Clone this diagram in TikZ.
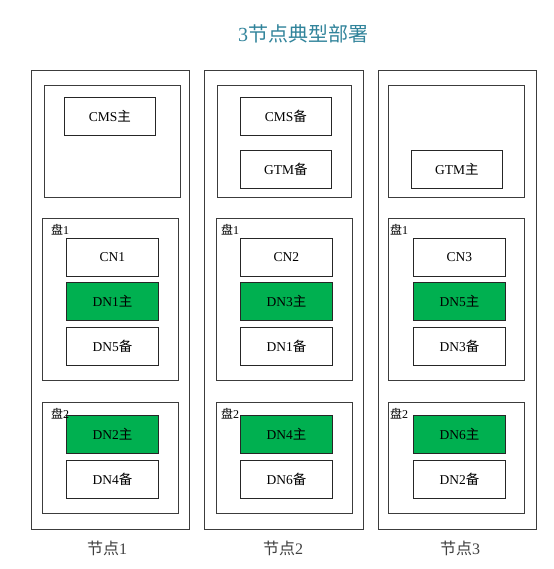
\documentclass[tikz,border=0pt]{standalone}
\usepackage{fontspec}
\setmainfont{Liberation Serif}
\newfontfamily\cjk{Noto Sans CJK SC}
\definecolor{titleblue}{RGB}{49,132,155}
\definecolor{dngreen}{RGB}{0,176,80}
\definecolor{framegray}{RGB}{60,60,60}
\begin{document}
\begin{tikzpicture}[x=1pt,y=-1pt,
  container/.style={draw=framegray,line width=0.9pt,fill=white,anchor=north west,inner sep=0pt},
  item/.style={draw=black!85,line width=0.8pt,fill=white,anchor=north west,inner sep=0pt,
    minimum width=92pt,minimum height=38pt,font=\fontsize{13.5}{15}\selectfont},
  primary/.style={item,fill=dngreen},
  disklabel/.style={anchor=north west,inner sep=0pt,font=\fontsize{12}{14}\selectfont},
  nodelabel/.style={font=\fontsize{16}{19}\selectfont,text=black!75}]
\useasboundingbox (0,0) rectangle (553,569);
\fill[white] (0,0) rectangle (553,569);
\node[font=\fontsize{20}{24}\selectfont,text=titleblue] (title) at (303,34) {3{\cjk 节点典型部署}};
% column 1
\node[container,minimum width=158pt,minimum height=459pt] (o1) at (31,70) {};
\node[container,minimum width=136pt,minimum height=112pt] (t1) at (44,85) {};
\node[container,minimum width=136pt,minimum height=162pt] (da1) at (42,218) {};
\node[container,minimum width=136pt,minimum height=111pt] (db1) at (42,402) {};
\node[item,minimum width=91pt] (cms1) at (64,97) {CMS{\cjk 主}};
\node[item] (cn1) at (66,238) {CN1};
\node[primary] (dn1m) at (66,282) {DN1{\cjk 主}};
\node[item] (dn5b) at (66,327) {DN5{\cjk 备}};
\node[primary] (dn2m) at (66,415) {DN2{\cjk 主}};
\node[item] (dn4b) at (66,460) {DN4{\cjk 备}};
\node[disklabel] (p11) at (51,224) {{\cjk 盘}1};
\node[disklabel] (p12) at (51,408) {{\cjk 盘}2};
\node[nodelabel] (n1) at (107,548) {{\cjk 节点}1};
% column 2
\node[container,minimum width=159pt,minimum height=459pt] (o2) at (204,70) {};
\node[container,minimum width=134pt,minimum height=112pt] (t2) at (217,85) {};
\node[container,minimum width=136pt,minimum height=162pt] (da2) at (216,218) {};
\node[container,minimum width=136pt,minimum height=111pt] (db2) at (216,402) {};
\node[item,minimum width=91pt] (cms2) at (240,97) {CMS{\cjk 备}};
\node[item,minimum width=91pt] (gtm2) at (240,150) {GTM{\cjk 备}};
\node[item] (cn2) at (240,238) {CN2};
\node[primary] (dn3m) at (240,282) {DN3{\cjk 主}};
\node[item] (dn1b) at (240,327) {DN1{\cjk 备}};
\node[primary] (dn4m) at (240,415) {DN4{\cjk 主}};
\node[item] (dn6b) at (240,460) {DN6{\cjk 备}};
\node[disklabel] (p21) at (221,224) {{\cjk 盘}1};
\node[disklabel] (p22) at (221,408) {{\cjk 盘}2};
\node[nodelabel] (n2) at (283,548) {{\cjk 节点}2};
% column 3
\node[container,minimum width=158pt,minimum height=459pt] (o3) at (378,70) {};
\node[container,minimum width=136pt,minimum height=112pt] (t3) at (388,85) {};
\node[container,minimum width=136pt,minimum height=162pt] (da3) at (388,218) {};
\node[container,minimum width=136pt,minimum height=111pt] (db3) at (388,402) {};
\node[item,minimum width=91pt] (gtm3) at (411,150) {GTM{\cjk 主}};
\node[item] (cn3) at (413,238) {CN3};
\node[primary] (dn5m) at (413,282) {DN5{\cjk 主}};
\node[item] (dn3b) at (413,327) {DN3{\cjk 备}};
\node[primary] (dn6m) at (413,415) {DN6{\cjk 主}};
\node[item] (dn2b) at (413,460) {DN2{\cjk 备}};
\node[disklabel] (p31) at (390,224) {{\cjk 盘}1};
\node[disklabel] (p32) at (390,408) {{\cjk 盘}2};
\node[nodelabel] (n3) at (460,548) {{\cjk 节点}3};
\end{tikzpicture}
\end{document}
